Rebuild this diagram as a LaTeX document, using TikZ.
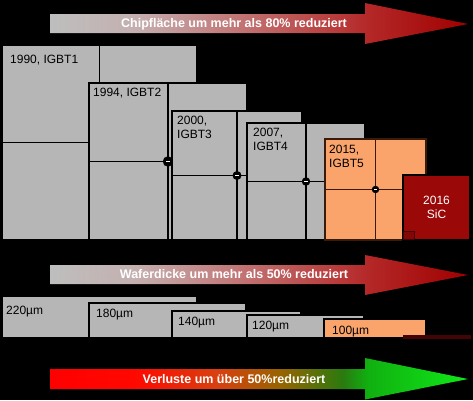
\documentclass[tikz,border=0pt]{standalone}
\usepackage{fontspec}
\setmainfont{Liberation Sans}
\usetikzlibrary{calc}
\definecolor{chipgray}{HTML}{B6B6B6}
\definecolor{igbtorange}{HTML}{FAA46C}
\definecolor{sicred}{HTML}{9A0808}
\definecolor{darkbrown}{HTML}{3A1A08}
\definecolor{sicdark}{HTML}{420404}
\definecolor{ra}{HTML}{BEBEBE}
\definecolor{rb}{HTML}{C4B0B0}
\definecolor{rc}{HTML}{C27575}
\definecolor{rd}{HTML}{B83838}
\definecolor{re}{HTML}{B42828}
\definecolor{rf}{HTML}{A00000}
\definecolor{ga}{HTML}{FF0000}
\definecolor{gb}{HTML}{FF0800}
\definecolor{gc}{HTML}{D84010}
\definecolor{gd}{HTML}{986400}
\definecolor{ge}{HTML}{2A7A10}
\definecolor{gf}{HTML}{10B010}
\definecolor{gg}{HTML}{10E818}
\pgfdeclarehorizontalshading{redshade}{100bp}{color(0bp)=(ra); color(25bp)=(ra); color(35bp)=(rb); color(47.5bp)=(rc); color(60bp)=(rd); color(63bp)=(re); color(75bp)=(rf); color(100bp)=(rf)}
\pgfdeclarehorizontalshading{greenshade}{100bp}{color(0bp)=(ga); color(25bp)=(ga); color(35bp)=(gb); color(45bp)=(gc); color(52.5bp)=(gd); color(60bp)=(ge); color(63bp)=(gf); color(75bp)=(gg); color(100bp)=(gg)}
\tikzset{
  chip/.style={draw=black, line width=1.5pt, fill=chipgray, inner sep=0pt, outer sep=0pt, anchor=north west},
  orangechip/.style={chip, fill=igbtorange, draw=darkbrown},
  divider/.style={draw=black, line width=1.5pt},
  odivider/.style={draw=darkbrown, line width=1.5pt},
  lbl/.style={anchor=north west, inner sep=0pt, font=\fontsize{12}{14}\selectfont, align=left, text=black},
  arrowtext/.style={inner sep=0pt, font=\fontsize{12.5}{15}\selectfont\bfseries, text=white},
  marker/.style={circle, fill=black, inner sep=0pt, minimum size=#1,
    path picture={\fill[white] ([xshift=-1.8pt,yshift=-0.9pt]path picture bounding box.center) rectangle ++(3.6pt,1.8pt);}},
  marker/.default=9pt
}
\begin{document}
\begin{tikzpicture}[x=1pt,y=-1pt]
\useasboundingbox (0,0) rectangle (473,400);
\fill[black] (0,0) rectangle (473,400);

% arrows
\shade[shading=redshade] (50,14) -- (365,14) -- (365,3) -- (468,24) -- (365,44) -- (365,33) -- (50,33) -- cycle;
\node[arrowtext] (t1) at (234,24) {Chipfläche um mehr als 80\% reduziert};

\shade[shading=redshade] (50,265) -- (365,265) -- (365,255) -- (468,275) -- (365,295) -- (365,284) -- (50,284) -- cycle;
\node[arrowtext] (t2) at (234,274.5) {Waferdicke um mehr als 50\% reduziert};

\shade[shading=greenshade] (50,369) -- (365,369) -- (365,358) -- (468,379) -- (365,399.5) -- (365,389) -- (50,389) -- cycle;
\node[arrowtext] (t3) at (234,379) {Verluste um über 50\%reduziert};

% chip boxes
\node[chip, minimum width=195pt, minimum height=195pt] (c1) at (2,45) {};
\draw[divider] (c1.north) -- (c1.south);
\draw[divider] (c1.west) -- (c1.east);
\node[lbl] (l1) at ([shift={(8,10)}]c1.north west) {1990, IGBT1};

\node[chip, minimum width=158pt, minimum height=157pt] (c2) at (89,83) {};
\draw[divider] (c2.north) -- (c2.south);
\draw[divider] (c2.west) -- (c2.east);
\node[marker=10.5pt] (m2) at (c2.center) {};
\node[lbl] (l2) at ([shift={(4,5)}]c2.north west) {1994, IGBT2};

\node[chip, minimum width=130pt, minimum height=129pt] (c3) at (172,111) {};
\draw[divider] (c3.north) -- (c3.south);
\draw[divider] (c3.west) -- (c3.east);
\node[marker=9pt] (m3) at (c3.center) {};
\node[lbl] (l3) at ([shift={(5,5)}]c3.north west) {2000,\\IGBT3};

\node[chip, minimum width=118pt, minimum height=117pt] (c4) at (247,123) {};
\draw[divider] (c4.north) -- (c4.south);
\draw[divider] (c4.west) -- (c4.east);
\node[marker=8.5pt] (m4) at (c4.center) {};
\node[lbl] (l4) at ([shift={(6,5)}]c4.north west) {2007,\\IGBT4};

\node[orangechip, minimum width=101pt, minimum height=101pt] (c5) at (325,139) {};
\draw[odivider] (c5.north) -- (c5.south);
\draw[odivider] (c5.west) -- (c5.east);
\node[marker=7.5pt] (m5) at (c5.center) {};
\node[lbl] (l5) at ([shift={(4,6)}]c5.north west) {2015,\\IGBT5};

\node[chip, fill=sicred, minimum width=67pt, minimum height=65pt] (c6) at (403,175) {};
\node[draw=sicdark, line width=1pt, fill=sicred!85!black, inner sep=0pt, minimum width=11pt, minimum height=8pt, anchor=south west] (c6s) at (c6.south west) {};
\node[lbl, anchor=center, align=center, text=white] (l6) at (c6.center) {2016\\SiC};

% wafer boxes
\node[chip, minimum width=195pt, minimum height=42pt] (w1) at (2,296) {};
\node[lbl] (v1) at ([shift={(4,10)}]w1.north west) {220µm};
\node[chip, minimum width=157pt, minimum height=35pt] (w2) at (89,303) {};
\node[lbl] (v2) at ([shift={(7,6)}]w2.north west) {180µm};
\node[chip, minimum width=129pt, minimum height=27pt] (w3) at (172,311) {};
\node[lbl] (v3) at ([shift={(6,6)}]w3.north west) {140µm};
\node[chip, minimum width=117pt, minimum height=23pt] (w4) at (247,315) {};
\node[lbl] (v4) at ([shift={(5,6)}]w4.north west) {120µm};
\node[orangechip, draw=black, minimum width=102pt, minimum height=19pt] (w5) at (324,319) {};
\node[lbl] (v5) at ([shift={(8,7)}]w5.north west) {100µm};
\node[chip, fill=sicdark, draw=sicdark, line width=0.6pt, minimum width=67pt, minimum height=2.5pt] (w6) at (403,335.5) {};
\end{tikzpicture}
\end{document}
